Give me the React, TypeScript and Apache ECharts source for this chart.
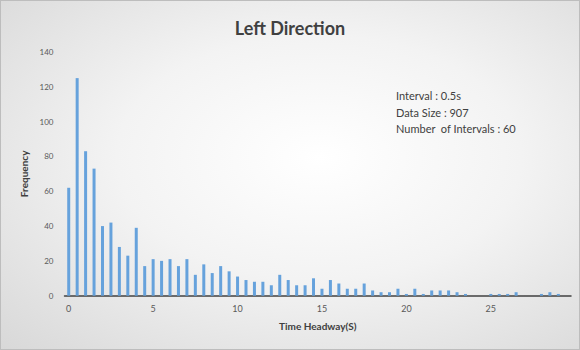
import React, { useEffect, useRef } from "react";
import * as echarts from "echarts";

const categories: string[] = [
  "0", "0.5", "1", "1.5", "2", "2.5", "3", "3.5", "4", "4.5",
  "5", "5.5", "6", "6.5", "7", "7.5", "8", "8.5", "9", "9.5",
  "10", "10.5", "11", "11.5", "12", "12.5", "13", "13.5", "14", "14.5",
  "15", "15.5", "16", "16.5", "17", "17.5", "18", "18.5", "19", "19.5",
  "20", "20.5", "21", "21.5", "22", "22.5", "23", "23.5", "24", "24.5",
  "25", "25.5", "26", "26.5", "27", "27.5", "28", "28.5", "29", "29.5",
];

const frequency: number[] = [
  62, 125, 83, 73, 40, 42, 28, 23, 39, 17,
  21, 20, 21, 17, 21, 12, 18, 13, 17, 14,
  11, 9, 8, 8, 6, 12, 9, 6, 6, 10,
  4, 9, 7, 4, 4, 7, 3, 2, 2, 4,
  1, 4, 1, 3, 3, 3, 2, 1, 0, 0,
  1, 1, 1, 2, 0, 0, 1, 2, 1, 0,
];

const yTicks = { min: 0, max: 140, interval: 20 };

const notes: string[] = [
  "Interval : 0.5s",
  "Data Size : 907",
  "Number  of Intervals : 60",
];

export default function App() {
  const ref = useRef<HTMLDivElement>(null);
  useEffect(() => {
    if (!ref.current) return;
    const chart = echarts.init(ref.current, null, { renderer: "svg" });
    const font = "Lato, 'Open Sans', sans-serif";
    chart.setOption({
      animation: false,
      title: {
        text: "Left Direction",
        left: "center",
        top: 13,
        textStyle: { fontFamily: font, fontSize: 18, fontWeight: "bold", color: "#404040" },
      },
      grid: { left: 63.5, right: 8, top: 51, bottom: 53.3, containLabel: false },
      xAxis: {
        type: "category",
        data: categories,
        name: "Time Headway(S)",
        nameLocation: "middle",
        nameGap: 25,
        nameTextStyle: { fontFamily: font, fontSize: 10, fontWeight: "bold", color: "#404040" },
        axisLine: { show: true, lineStyle: { color: "#404040", width: 1.5 } },
        axisTick: { show: false },
        axisLabel: { interval: 9, fontFamily: font, fontSize: 9, color: "#595959", margin: 8 },
      },
      yAxis: {
        type: "value",
        min: yTicks.min,
        max: yTicks.max,
        interval: yTicks.interval,
        name: "Frequency",
        nameLocation: "middle",
        nameGap: 25,
        nameRotate: 90,
        nameTextStyle: { fontFamily: font, fontSize: 10, fontWeight: "bold", color: "#404040" },
        axisLine: { show: false },
        axisTick: { show: false },
        splitLine: { show: false },
        axisLabel: { fontFamily: font, fontSize: 8, color: "#595959", margin: 11 },
      },
      series: [
        {
          type: "bar",
          data: frequency,
          barWidth: 3,
          itemStyle: { color: "#66a2dc" },
        },
      ],
      graphic: notes.map((t, i) => ({
        type: "text",
        left: 395,
        top: 89 + i * 16.5,
        style: { text: t, fontFamily: font, fontSize: 11, fill: "#404040" },
      })),
    });
    return () => chart.dispose();
  }, []);
  return (
    <div
      style={{
        position: "absolute",
        left: 0,
        top: 0,
        width: 580,
        height: 350,
        boxSizing: "border-box",
        border: "1px solid #bdbdbd",
        background:
          "radial-gradient(ellipse at 55% 45%, #ffffff 0%, #f3f3f3 45%, #d8d8d8 100%)",
      }}
    >
      <div ref={ref} style={{ width: 578, height: 348 }} />
    </div>
  );
}
